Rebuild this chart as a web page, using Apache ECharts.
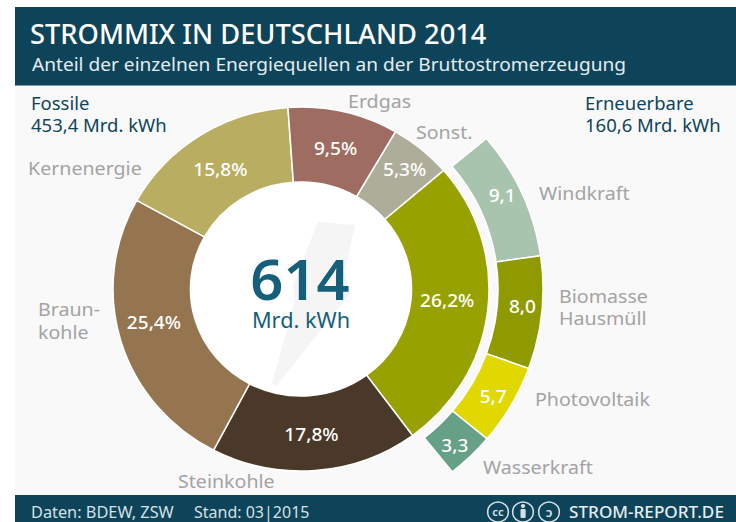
<!DOCTYPE html>
<html>
<head>
<meta charset="utf-8">
<style>
html,body{margin:0;padding:0;background:#fff;overflow:hidden}
/* the reference is stretched a bit wider than tall, rings are elliptical */
#chart{width:712.5px;height:522px;transform:scaleX(1.033);transform-origin:0 0}
</style>
<script src="https://cdn.jsdelivr.net/npm/echarts@6/dist/echarts.min.js"></script>
</head>
<body>
<div id="chart"></div>
<script>
// inner ring, percent of gross generation
var mixNames = ['Erneuerbare', 'Steinkohle', 'Braunkohle', 'Kernenergie', 'Erdgas', 'Sonst.'];
var mixValues = [26.2, 17.8, 25.4, 15.8, 9.5, 5.3];
var mixColors = ['#97a100', '#4a3928', '#94754f', '#b8ad60', '#9e6c60', '#adad99'];
// outer ring, renewables only
var renewNames = ['Windkraft', 'Biomasse\nHausmüll', 'Photovoltaik', 'Wasserkraft'];
var renewValues = [9.1, 8.0, 5.7, 3.3];
var renewColors = ['#a9c4ae', '#8f9900', '#e0d800', '#65a087'];

// nudges for the value labels inside the slices
var mixShift = [[-5, -5], [-1, -2], [-1, -9], [1, 5], [0, 3], [6, -6]];
var renewShift = [[-2, -6], [0, -5], [-1, 0], [-2, 2]];

var font = '"Noto Sans", sans-serif';
var grey = '#a3a3a3';
var navy = '#0e4459';
var foot = '#d5e0e5';

// x in picture pixels -> x inside the stretched div
function X(x) { return x / 1.033; }
function comma(v) { return v.toFixed(1).replace('.', ','); }
function txt(x, y, s, size, color, extra) {
  return { type: 'text', z: 10, style: { x: X(x), y: y, text: s,
    font: (extra && extra.weight || 'normal') + ' ' + size + 'px ' + font,
    lineHeight: extra && extra.lh || size,
    fill: color, textVerticalAlign: 'middle', textAlign: extra && extra.align || 'left' } };
}
function ring(x) {
  return { type: 'circle', z: 10, shape: { cx: X(x), cy: 512, r: 10 }, style: { fill: 'none', stroke: foot, lineWidth: 1.5 } };
}
function shifted(list) {
  return function(p) { return { dx: list[p.dataIndex][0], dy: list[p.dataIndex][1] }; };
}

var chart = echarts.init(document.getElementById('chart'), null, { renderer: 'svg' });
chart.setOption({
  animation: false,
  backgroundColor: '#fff',
  graphic: [
    { type: 'rect', z: 0, shape: { x: X(15), y: 7, width: X(721), height: 515 }, style: { fill: '#f9f9f9' } },
    { type: 'rect', z: 0, shape: { x: X(15), y: 7, width: X(721), height: 78 }, style: { fill: navy } },
    { type: 'rect', z: 0, shape: { x: X(15), y: 85, width: X(721), height: 1 }, style: { fill: '#7d9aa6' } },
    { type: 'rect', z: 0, shape: { x: X(15), y: 495, width: X(721), height: 27 }, style: { fill: navy } },
    { type: 'circle', z: 0, shape: { cx: X(301), cy: 289, r: 107 }, style: { fill: '#fff' } },
    { type: 'polygon', z: 1, shape: { points: [[318, 222], [355, 225], [345, 272], [350, 294], [276, 386], [272, 383], [295, 300], [293, 285]].map(function(p) { return [X(p[0]), p[1]]; }) },
      style: { fill: '#f5f5f5' } },
    txt(30, 34, 'STROMMIX IN DEUTSCHLAND 2014', 26.4, '#fff', { weight: 500 }),
    txt(32, 64, 'Anteil der einzelnen Energiequellen an der Bruttostromerzeugung', 18.5, '#e4ecef'),
    txt(31, 103, 'Fossile', 17.9, navy),
    txt(31, 125, '453,4 Mrd. kWh', 17.9, navy),
    txt(585, 103, 'Erneuerbare', 17.9, navy),
    txt(585, 125, '160,6 Mrd. kWh', 17.9, navy),
    txt(300, 278, '614', 56, '#155f7b', { weight: 600, align: 'center', lh: 44 }),
    txt(301, 320, 'Mrd. kWh', 21, '#155f7b', { align: 'center' }),
    txt(348, 101, mixNames[4], 19, grey),
    txt(416, 132, mixNames[5], 19, grey),
    txt(28, 168, mixNames[3], 19, grey),
    txt(38, 320.5, 'Braun-\nkohle', 19, grey, { lh: 23 }),
    txt(178, 481, mixNames[1], 19, grey),
    txt(539, 193, renewNames[0], 19, grey),
    txt(559, 307, renewNames[1], 19, grey, { lh: 22 }),
    txt(535, 399, renewNames[2], 19, grey),
    txt(483, 467, renewNames[3], 19, grey),
    txt(31, 512, 'Daten: BDEW, ZSW', 15.8, foot),
    txt(194, 512, 'Stand: 03|2015', 15.5, foot),
    ring(498), ring(523), ring(549),
    txt(498, 512, 'cc', 11, foot, { align: 'center', weight: 600 }),
    { type: 'circle', z: 10, shape: { cx: X(523), cy: 506, r: 2 }, style: { fill: foot } },
    { type: 'rect', z: 10, shape: { x: X(520.5), y: 509, width: 5, height: 9, r: 1 }, style: { fill: foot } },
    txt(549, 512, 'ↄ', 13, foot, { align: 'center', weight: 600 }),
    txt(569, 512, 'STROM-REPORT.DE', 16.6, '#e4ecef', { weight: 500 })
  ],
  series: [
    {
      type: 'pie',
      center: [X(301), 289],
      radius: [107, 182],
      startAngle: 40.7,
      clockwise: true,
      silent: true,
      z: 3,
      itemStyle: { borderColor: '#fff', borderWidth: 1.5 },
      label: { position: 'inside', color: '#fff', fontFamily: font, fontSize: 18.5, fontWeight: 500,
        formatter: function(p) { return comma(p.value) + '%'; } },
      labelLine: { show: false },
      labelLayout: shifted(mixShift),
      data: mixValues.map(function(v, i) { return { name: mixNames[i], value: v, itemStyle: { color: mixColors[i] } }; })
    },
    {
      type: 'pie',
      center: [X(301), 289],
      radius: [190.7, 234.3],
      startAngle: 40,
      endAngle: -51.3,
      clockwise: true,
      silent: true,
      z: 3,
      itemStyle: { borderColor: '#fff', borderWidth: 1.5 },
      label: { position: 'inside', color: '#fff', fontFamily: font, fontSize: 18.5, fontWeight: 500,
        formatter: function(p) { return comma(p.value); } },
      labelLine: { show: false },
      labelLayout: shifted(renewShift),
      data: renewValues.map(function(v, i) { return { name: renewNames[i], value: v, itemStyle: { color: renewColors[i] } }; })
    }
  ]
});
window.addEventListener('resize', function() { chart.resize(); });
</script>
</body>
</html>
